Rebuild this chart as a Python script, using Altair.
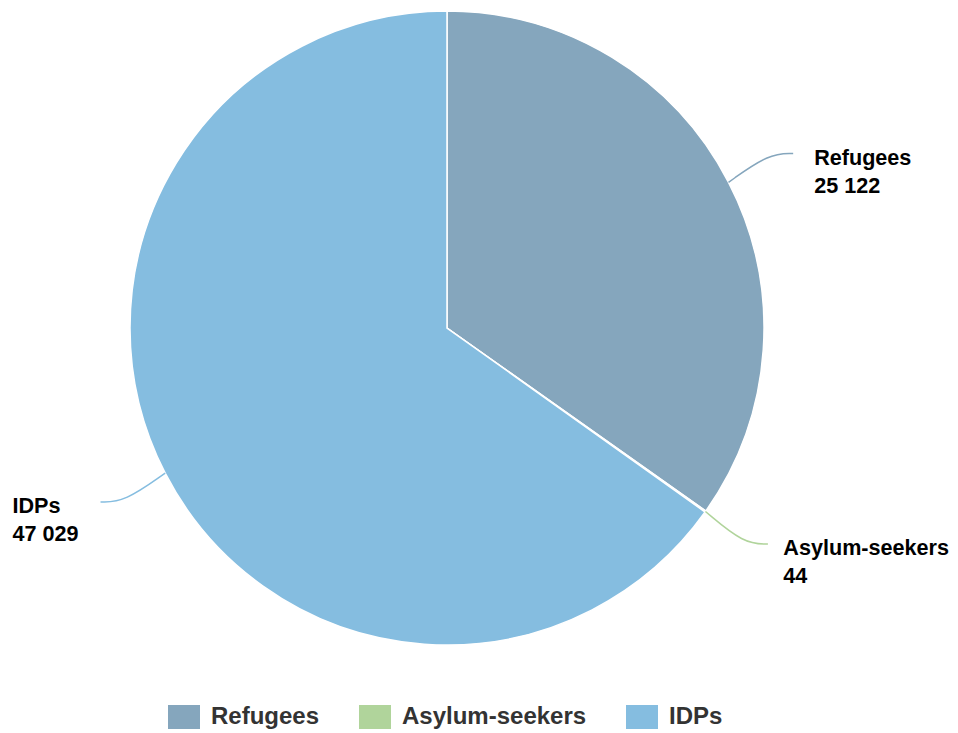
import numpy as np
import pandas as pd
import altair as alt

# ---- data ----
categories = ["Refugees", "Asylum-seekers", "IDPs"]
values = [25122, 44, 47029]
colors = ["#85a6bd", "#b0d49b", "#85bde0"]

# ---- layout (pixels inside the plot area) ----
W, H = 942, 725
CX, CY, R = 439, 320, 317
FONT = "Liberation Sans"
FS = 21.6

# approximate bold glyph widths (em) used to keep labels inside the chart
GLYPH = {"A": .722, "s": .556, "y": .556, "l": .278, "u": .611, "m": .889, "-": .333,
         "e": .556, "k": .556, "r": .389, "R": .722, "f": .333, "g": .611, " ": .278,
         "I": .278, "D": .722, "P": .667}


def text_width(t):
    return sum(GLYPH.get(ch, .556) for ch in t) * FS


total = float(sum(values))
cum = np.concatenate([[0.0], np.cumsum(values)])

pie_rows, line_rows, text_rows = [], [], []
for i, (cat, val) in enumerate(zip(categories, values)):
    pie_rows.append({"category": cat, "value": val, "order": i, "cx": CX, "cy": CY})
    a = (cum[i] + cum[i + 1]) / 2.0 / total * 2 * np.pi
    s, c = np.sin(a), np.cos(a)
    side = 1.0 if s >= 0 else -1.0
    ex, ey = CX + R * s, CY - R * c
    endx = CX + (R + 30) * s + side * 38
    endy = CY - (R + 30) * c - 15 * np.sign(c)
    ctrlx = endx - side * 24
    for j, (px, py) in enumerate([(ex, ey), (ctrlx, endy), (endx, endy)]):
        line_rows.append({"category": cat, "idx": j, "x": px, "y": py})
    label_val = f"{val:,}".replace(",", " ")
    block_w = max(text_width(cat), text_width(label_val))
    if side > 0:
        tx = min(endx + 21, W - block_w - 1)
    else:
        tx = endx - 22 - block_w
    text_rows.append({"category": cat, "x": tx, "y": endy + 5, "txt": cat})
    text_rows.append({"category": cat, "x": tx, "y": endy + 33, "txt": label_val})

pie_df = pd.DataFrame(pie_rows)
line_df = pd.DataFrame(line_rows)
text_df = pd.DataFrame(text_rows)

xs = alt.Scale(domain=[0, W], range=[0, W], nice=False, zero=False)
ys = alt.Scale(domain=[0, H], range=[0, H], nice=False, zero=False)

legend = alt.Legend(
    orient="none", legendX=164, legendY=697, direction="horizontal", title=None,
    symbolType="M-1.333,-1H1.333V1H-1.333Z", symbolSize=576, symbolStrokeWidth=0,
    symbolOpacity=1, labelFontSize=24, labelFont=FONT, labelFontWeight="bold",
    labelColor="#333333", labelOffset=15, columnPadding=39, padding=0, labelLimit=0,
)

arcs = alt.Chart(pie_df).mark_arc(
    outerRadius=R, stroke="white", strokeWidth=1.5, opacity=1
).encode(
    theta=alt.Theta("value:Q", stack=True),
    color=alt.Color("category:N", scale=alt.Scale(domain=categories, range=colors), legend=legend),
    order=alt.Order("order:Q"),
    x=alt.X("cx:Q", scale=xs, axis=None),
    y=alt.Y("cy:Q", scale=ys, axis=None),
)

lines = alt.Chart(line_df).mark_line(interpolate="basis", strokeWidth=1.5).encode(
    x=alt.X("x:Q", scale=xs, axis=None),
    y=alt.Y("y:Q", scale=ys, axis=None),
    stroke=alt.Stroke("category:N", scale=alt.Scale(domain=categories, range=colors), legend=None),
    detail="category:N",
    order="idx:Q",
)

texts = alt.Chart(text_df).mark_text(
    align="left", baseline="middle", font=FONT, fontSize=FS, fontWeight="bold", color="#000000"
).encode(
    x=alt.X("x:Q", scale=xs, axis=None),
    y=alt.Y("y:Q", scale=ys, axis=None),
    text="txt:N",
)

chart = alt.layer(arcs, lines, texts).properties(
    width=W, height=H, autosize=alt.AutoSizeParams(type="none"), padding=0
).configure_view(stroke=None).resolve_scale(color="independent", stroke="independent")

chart.save("out.html", embed_options={"renderer": "svg", "actions": False})
